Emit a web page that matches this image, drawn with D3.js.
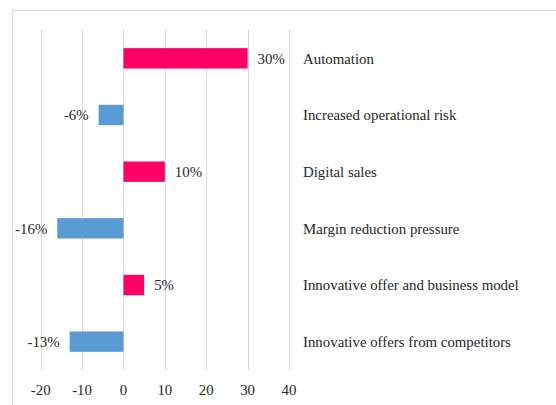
<!DOCTYPE html>
<html>
<head>
<meta charset="utf-8">
<script src="https://cdn.jsdelivr.net/npm/d3@7"></script>
<style>
  body { margin: 0; background: #fff; }
</style>
</head>
<body>
<div id="vis"></div>
<script>
var categories = ["Automation", "Increased operational risk", "Digital sales",
  "Margin reduction pressure", "Innovative offer and business model", "Innovative offers from competitors"];
var values = [30, -6, 10, -16, 5, -13];
var tickValues = [-20, -10, 0, 10, 20, 30, 40];

var width = 556, height = 405;
var serif = "'Liberation Serif', 'DejaVu Serif', serif";
var svg = d3.select("#vis").append("svg")
  .attr("width", width)
  .attr("height", height)
  .style("font-family", serif);

// size the font so "Automation" is about as wide as in the picture (~71px)
var probe = svg.append("text").style("font-size", "15px").text("Automation");
var fontSize = 15 * 71 / probe.node().getComputedTextLength();
probe.remove();
svg.style("font-size", fontSize + "px");

// chart area border (goes off the right and bottom edge)
svg.append("rect")
  .attr("x", 12.5).attr("y", 10.5)
  .attr("width", 560).attr("height", 420)
  .attr("fill", "none")
  .attr("stroke", "#d9d9d9");

var x = d3.scaleLinear().domain([-20, 40]).range([40.7, 289]);
var y = d3.scaleBand().domain(categories).range([30, 370])
  .paddingInner(0.64).paddingOuter(0.32);

// gridlines
svg.append("g").selectAll("line")
  .data(tickValues)
  .enter().append("line")
  .attr("x1", function (d) { return Math.round(x(d)) + 0.5; })
  .attr("x2", function (d) { return Math.round(x(d)) + 0.5; })
  .attr("y1", 29).attr("y2", 370)
  .attr("stroke", "#d9d9d9");

// tick labels
svg.append("g").selectAll("text")
  .data(tickValues)
  .enter().append("text")
  .attr("x", x)
  .attr("y", 395)
  .attr("text-anchor", "middle")
  .attr("fill", "#262626")
  .text(function (d) { return d; });

// bars
svg.append("g").selectAll("rect")
  .data(values)
  .enter().append("rect")
  .attr("x", function (d) { return x(Math.min(0, d)); })
  .attr("y", function (d, i) { return y(categories[i]); })
  .attr("width", function (d) { return Math.abs(x(d) - x(0)); })
  .attr("height", y.bandwidth())
  .attr("fill", function (d) { return d >= 0 ? "#ff0066" : "#5b9bd5"; });

// value labels
svg.append("g").selectAll("text")
  .data(values)
  .enter().append("text")
  .attr("x", function (d) { return d >= 0 ? x(d) + 10 : x(d) - 10; })
  .attr("y", function (d, i) { return y(categories[i]) + y.bandwidth() / 2; })
  .attr("dy", "0.35em")
  .attr("text-anchor", function (d) { return d >= 0 ? "start" : "end"; })
  .attr("fill", "#262626")
  .text(function (d) { return d + "%"; });

// category labels
svg.append("g").selectAll("text")
  .data(categories)
  .enter().append("text")
  .attr("x", 303)
  .attr("y", function (d) { return y(d) + y.bandwidth() / 2; })
  .attr("dy", "0.35em")
  .attr("fill", "#262626")
  .text(function (d) { return d; });
</script>
</body>
</html>
